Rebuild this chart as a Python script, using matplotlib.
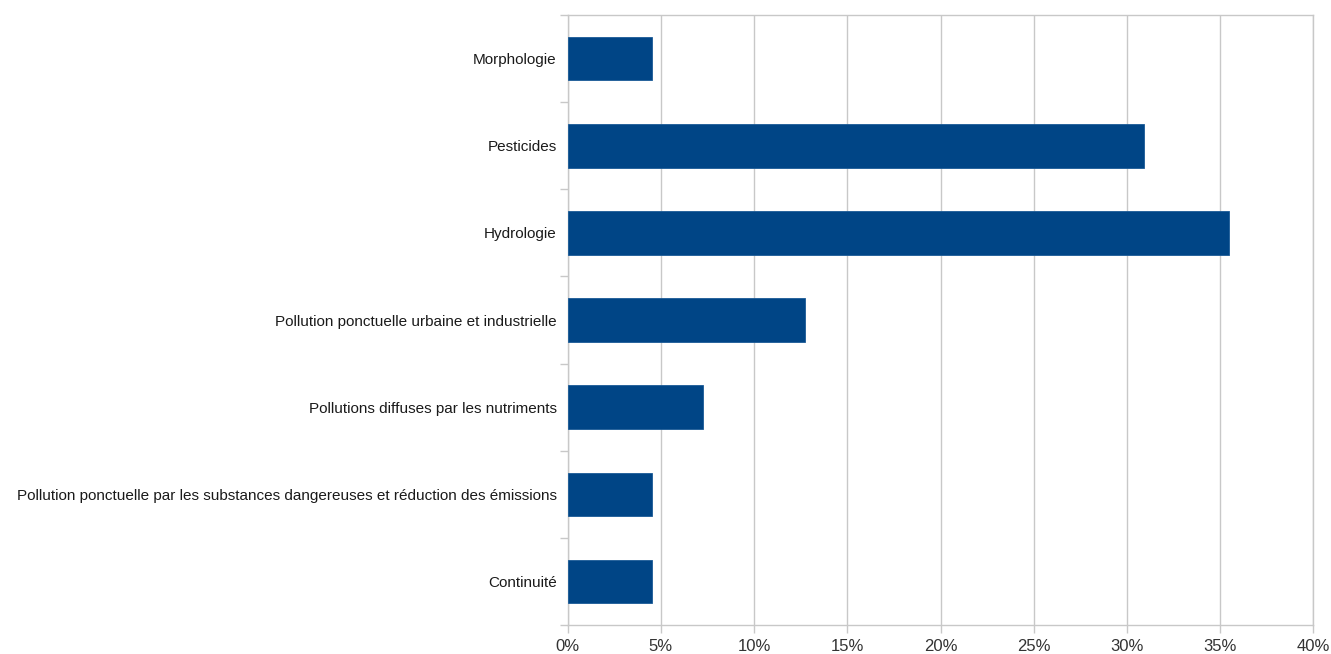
import matplotlib
matplotlib.use("Agg")
import matplotlib.pyplot as plt
from matplotlib.ticker import FixedLocator, FuncFormatter
import numpy as np

categories = [
    "Morphologie",
    "Pesticides",
    "Hydrologie",
    "Pollution ponctuelle urbaine et industrielle",
    "Pollutions diffuses par les nutriments",
    "Pollution ponctuelle par les substances dangereuses et réduction des émissions",
    "Continuité",
]
values = [4.5, 30.9, 35.5, 12.75, 7.25, 4.5, 4.5]
x_ticks = [0, 5, 10, 15, 20, 25, 30, 35, 40]

plt.rcParams['font.family'] = ['Liberation Sans', 'DejaVu Sans']

fig = plt.figure(figsize=(13.31, 6.54), dpi=100)
ax = fig.add_axes([567.7 / 1331, 1 - 625 / 654, (1313.3 - 567.7) / 1331, (625 - 15) / 654])

n = len(categories)
y = np.arange(n)
ax.barh(y, values, height=0.5, color="#004586", edgecolor="#1a5a96", linewidth=0.6, zorder=3)

ax.set_xlim(0, 40)
ax.set_ylim(n - 0.5, -0.5)

grid_col = "#c8c8c8"
ax.set_xticks(x_ticks)
ax.xaxis.set_major_formatter(FuncFormatter(lambda v, p: f"{v:.0f}%"))
ax.grid(axis="x", color=grid_col, linewidth=1.0, zorder=0)
ax.tick_params(axis="x", direction="out", length=6, width=1.0, color=grid_col,
               labelsize=12, labelcolor="#333333", pad=4)

ax.set_yticks(y)
ax.set_yticklabels(categories)
ax.yaxis.set_minor_locator(FixedLocator(np.arange(-0.5, n, 1.0)))
ax.tick_params(axis="y", which="major", length=0, labelsize=11, labelcolor="#1a1a1a", pad=8)
ax.tick_params(axis="y", which="minor", direction="out", length=6, width=1.0, color=grid_col)

for side in ["left", "bottom", "top", "right"]:
    ax.spines[side].set_color(grid_col)
    ax.spines[side].set_linewidth(1.0)

fig.savefig("out.png", dpi=100)
